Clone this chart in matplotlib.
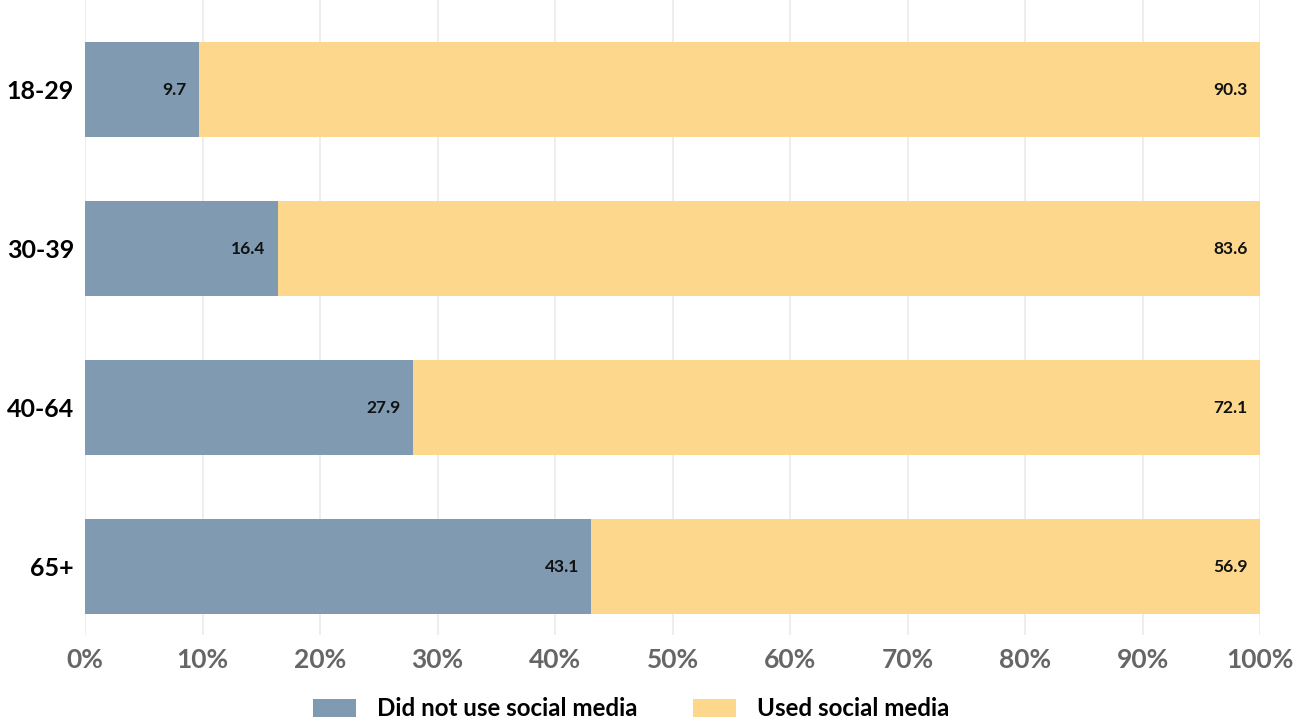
import matplotlib
matplotlib.use("Agg")
import matplotlib.pyplot as plt
import numpy as np

# datos del grafico
grupos = ["18-29", "30-39", "40-64", "65+"]
no_usa = [9.7, 16.4, 27.9, 43.1]
usa = [90.3, 83.6, 72.1, 56.9]
series = ["Did not use social media", "Used social media"]
colores = ["#7f9ab1", "#fdd88c"]

plt.rcParams['font.family'] = ['Lato', 'DejaVu Sans']

fig = plt.figure(figsize=(13.04, 7.26), dpi=100)
ax = fig.add_axes([85/1304, 1 - 635/726, 1175/1304, 635/726])

y = np.arange(len(grupos))
b1 = ax.barh(y, no_usa, height=0.6, color=colores[0], label=series[0], zorder=2)
b2 = ax.barh(y, usa, left=no_usa, height=0.6, color=colores[1], label=series[1], zorder=2)

# etiquetas de valor al final de cada segmento, por dentro
for i in range(len(grupos)):
    ax.annotate(f"{no_usa[i]:.1f}", xy=(no_usa[i], y[i]), xytext=(-9, 0),
                textcoords='offset points', ha='right', va='center',
                fontsize=12.5, fontweight='bold', color='#111111', zorder=3)
    ax.annotate(f"{usa[i]:.1f}", xy=(no_usa[i] + usa[i], y[i]), xytext=(-9, 0),
                textcoords='offset points', ha='right', va='center',
                fontsize=12.5, fontweight='bold', color='#111111', zorder=3)

ax.set_xlim(0, 100)
ax.set_ylim(3.43, -0.563)
ax.set_xticks(np.arange(0, 101, 10))
ax.set_xticklabels([f"{v}%" for v in range(0, 101, 10)])
ax.set_yticks(y)
ax.set_yticklabels(grupos)

ax.tick_params(axis='x', length=0, pad=9, labelsize=19, labelcolor='#666666')
ax.tick_params(axis='y', length=0, pad=8, labelsize=18)
for lab in ax.get_yticklabels():
    lab.set_fontweight('bold')
for lab in ax.get_xticklabels():
    lab.set_fontweight('bold')

ax.grid(axis='x', color='#ebebeb', linewidth=1.2, zorder=0)
ax.grid(axis='y', visible=False)
for s in ax.spines.values():
    s.set_visible(False)

leg = fig.legend(handles=[b1, b2], labels=series, loc='center', ncol=2,
                 bbox_to_anchor=(631/1304, 1 - 709/726), frameon=False,
                 prop={'size': 17.4, 'weight': 'bold'},
                 handlelength=1.8, handleheight=0.8, handletextpad=0.85,
                 columnspacing=2.3)

fig.savefig("out.png", dpi=100)
